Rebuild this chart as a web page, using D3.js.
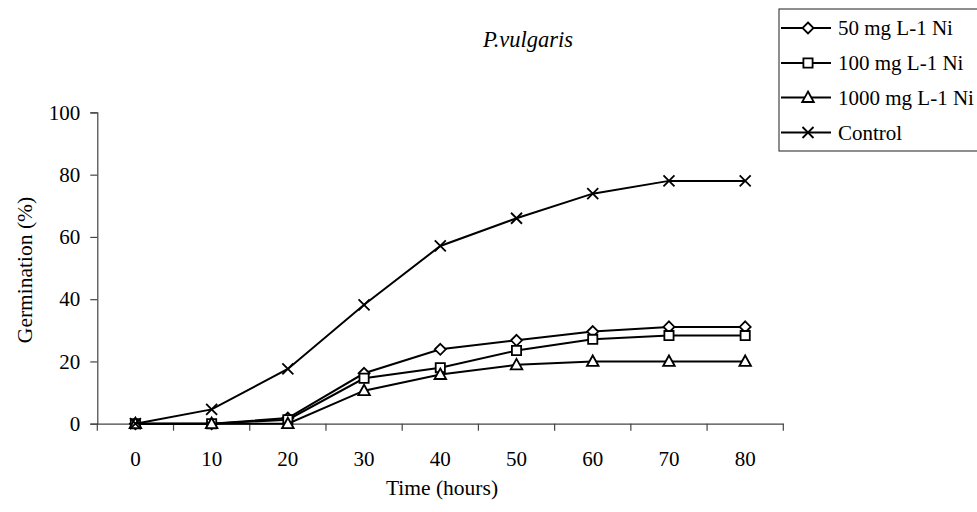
<!DOCTYPE html>
<html>
<head>
<meta charset="utf-8">
<script src="https://cdn.jsdelivr.net/npm/d3@7/dist/d3.min.js"></script>
<style>
  html, body { margin: 0; padding: 0; background: #fff; }
</style>
</head>
<body>
<svg id="chart" width="977" height="512"></svg>
<script>
// Germination time course of P. vulgaris seeds under nickel treatments
const hours = ["0", "10", "20", "30", "40", "50", "60", "70", "80"];
const ni50 = [0, 0, 1.8, 16.2, 23.9, 26.8, 29.6, 31.1, 31.1];
const ni100 = [0, 0, 1.3, 14.6, 18.0, 23.5, 27.1, 28.3, 28.3];
const ni1000 = [0, 0, 0, 10.6, 15.8, 18.9, 20, 20, 20];
const control = [0, 4.6, 17.6, 38.2, 57.1, 66.0, 73.9, 78, 78];
const yTicks = [0, 20, 40, 60, 80, 100];
const seriesNames = ["50 mg L-1 Ni", "100 mg L-1 Ni", "1000 mg L-1 Ni", "Control"];
const seriesMarkers = ["diamond", "square", "triangle", "cross"];
const seriesValues = [ni50, ni100, ni1000, control];

const FONT = "Liberation Serif";
const fontSize = 21;
const svg = d3.select("#chart");

const x = d3.scaleBand().domain(hours).range([97.3, 783.3]).paddingInner(0).paddingOuter(0);
const y = d3.scaleLinear().domain([0, 100]).range([423.7, 112.4]);
const cx = d => x(d) + x.bandwidth() / 2;

// marker shapes
function markerPath(type) {
  switch (type) {
    case "diamond": return "M0,-5.5L5.5,0L0,5.5L-5.5,0Z";
    case "square": return "M-4.6,-4.6H4.6V4.6H-4.6Z";
    case "triangle": return "M0,-6L5.8,4.5H-5.8Z";
    case "cross": return "M-5.5,-5.5L5.5,5.5M5.5,-5.5L-5.5,5.5";
  }
}

// y axis
const yAxis = d3.axisLeft(y).tickValues(yTicks).tickSize(7).tickPadding(10);
const gy = svg.append("g").attr("transform", "translate(97.3,0)").call(yAxis);
gy.select(".domain").attr("stroke", "#444").attr("stroke-width", 1.2);
gy.selectAll(".tick line").attr("stroke", "#444").attr("stroke-width", 1.2);
gy.selectAll(".tick text").attr("fill", "#000")
  .attr("font-family", FONT).attr("font-size", fontSize);

// x axis: labels centred in each category, tick marks on category boundaries
const xAxis = d3.axisBottom(x).tickSize(0).tickPadding(27);
const gx = svg.append("g").attr("transform", `translate(0,${y(0)})`).call(xAxis);
gx.select(".domain").attr("stroke", "#444").attr("stroke-width", 1.2);
gx.selectAll(".tick text").attr("fill", "#000")
  .attr("font-family", FONT).attr("font-size", fontSize);
const bounds = hours.map(h => x(h)).concat([x(hours[hours.length - 1]) + x.bandwidth()]);
gx.selectAll(".bound").data(bounds).enter().append("line")
  .attr("class", "bound")
  .attr("x1", d => d).attr("x2", d => d)
  .attr("y1", 0).attr("y2", 7)
  .attr("stroke", "#444").attr("stroke-width", 1.2);

// series
const line = d3.line().x((d, i) => cx(hours[i])).y(d => y(d));
seriesValues.forEach((vals, s) => {
  const g = svg.append("g");
  g.append("path").datum(vals).attr("d", line)
    .attr("fill", "none").attr("stroke", "#000").attr("stroke-width", 2);
  g.selectAll("path.mk").data(vals).enter().append("path")
    .attr("class", "mk")
    .attr("transform", (d, i) => `translate(${cx(hours[i])},${y(d)})`)
    .attr("d", markerPath(seriesMarkers[s]))
    .attr("fill", seriesMarkers[s] === "cross" ? "none" : "#fff")
    .attr("stroke", "#000").attr("stroke-width", 1.8);
});

// title
svg.append("text").attr("x", 528).attr("y", 47)
  .attr("text-anchor", "middle").attr("font-style", "italic")
  .attr("font-family", FONT).attr("font-size", 22.5).text("P.vulgaris");

// axis titles
svg.append("text").attr("x", 442).attr("y", 495)
  .attr("text-anchor", "middle").attr("font-family", FONT).attr("font-size", 21.5)
  .text("Time (hours)");
svg.append("text").attr("transform", "translate(32,270) rotate(-90)")
  .attr("text-anchor", "middle").attr("font-family", FONT).attr("font-size", 21.5)
  .text("Germination (%)");

// legend
const lg = svg.append("g");
lg.append("rect").attr("x", 779).attr("y", 9).attr("width", 210).attr("height", 142)
  .attr("fill", "#fff").attr("stroke", "#444").attr("stroke-width", 1.2);
const rowY = [28, 63, 97.5, 132.5];
seriesNames.forEach((name, s) => {
  const r = lg.append("g").attr("transform", `translate(0,${rowY[s]})`);
  r.append("line").attr("x1", 781).attr("x2", 831).attr("y1", 0).attr("y2", 0)
    .attr("stroke", "#000").attr("stroke-width", 2);
  r.append("path").attr("transform", "translate(808,0)")
    .attr("d", markerPath(seriesMarkers[s]))
    .attr("fill", "#fff")
    .attr("stroke", "#000").attr("stroke-width", 1.8);
  r.append("text").attr("x", 838).attr("y", 0).attr("dy", "0.35em")
    .attr("font-family", FONT).attr("font-size", fontSize).text(name);
});
</script>
</body>
</html>
